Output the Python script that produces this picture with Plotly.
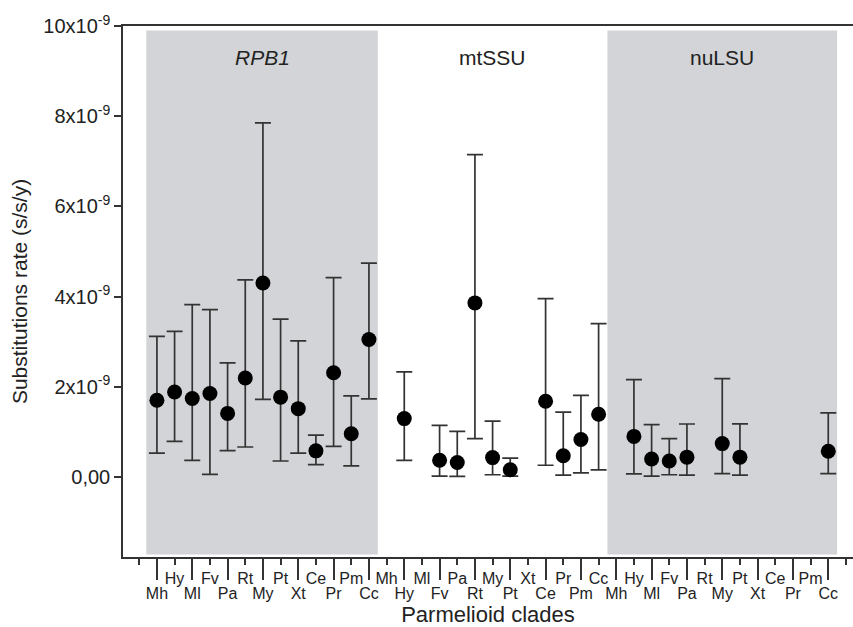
import plotly.graph_objects as go

clades = ["Mh", "Hy", "Ml", "Fv", "Pa", "Rt", "My", "Pt", "Xt", "Ce", "Pr", "Pm", "Cc"]
genes = ["RPB1", "mtSSU", "nuLSU"]

# values in units of 1e-9 substitutions/site/year (None = no estimate)
rpb1_rate  = [1.70, 1.885, 1.74, 1.85, 1.41, 2.195, 4.30, 1.77, 1.515, 0.58, 2.31, 0.96, 3.05]
rpb1_upper = [3.12, 3.23, 3.82, 3.71, 2.53, 4.37, 7.85, 3.50, 3.02, 0.93, 4.42, 1.80, 4.74]
rpb1_lower = [0.53, 0.79, 0.37, 0.06, 0.585, 0.665, 1.72, 0.355, 0.53, 0.275, 0.68, 0.245, 1.73]

mtssu_rate  = [None, 1.295, None, 0.37, 0.32, 3.86, 0.43, 0.16, None, 1.68, 0.47, 0.83, 1.39]
mtssu_upper = [None, 2.33, None, 1.146, 1.01, 7.15, 1.24, 0.42, None, 3.955, 1.44, 1.81, 3.40]
mtssu_lower = [None, 0.37, None, 0.02, 0.015, 0.85, 0.05, 0.02, None, 0.26, 0.04, 0.09, 0.16]

nulsu_rate  = [None, 0.90, 0.40, 0.355, 0.44, None, 0.74, 0.44, None, None, None, None, 0.57]
nulsu_upper = [None, 2.16, 1.16, 0.85, 1.175, None, 2.18, 1.18, None, None, None, None, 1.42]
nulsu_lower = [None, 0.07, 0.02, 0.05, 0.04, None, 0.075, 0.04, None, None, None, None, 0.075]

ytick_vals = [0, 2, 4, 6, 8, 10]
ytick_text = ["0,00", "2x10<sup>-9</sup>", "4x10<sup>-9</sup>", "6x10<sup>-9</sup>",
              "8x10<sup>-9</sup>", "10x10<sup>-9</sup>"]

gene_data = [(rpb1_rate, rpb1_upper, rpb1_lower),
             (mtssu_rate, mtssu_upper, mtssu_lower),
             (nulsu_rate, nulsu_upper, nulsu_lower)]

n = len(clades)
xs, ys, ep, em = [], [], [], []
for gi, (r, u, l) in enumerate(gene_data):
    for ci in range(n):
        if r[ci] is None:
            continue
        xs.append(gi * n + ci)
        ys.append(r[ci])
        ep.append(u[ci] - r[ci])
        em.append(r[ci] - l[ci])

FONT = "Liberation Sans, Arial, sans-serif"
AX = "#333333"
TXT = "#222222"

fig = go.Figure()
fig.add_trace(go.Scatter(
    x=xs, y=ys, mode="markers",
    marker=dict(size=15, color="black"),
    error_y=dict(type="data", symmetric=False, array=ep, arrayminus=em,
                 color=AX, thickness=1.7, width=8),
    showlegend=False, hoverinfo="x+y"))

total = n * len(genes)
low_vals = [p for p in range(total) if p % 2 == 0]
low_text = [clades[p % n] for p in low_vals]
up_vals = [p for p in range(-1, total + 1) if p % 2 != 0]
up_text = [clades[p % n] if 0 <= p < total else "" for p in up_vals]

xr = [-1.92, 39.4]

# invisible helper trace so the second (upper-label) x axis is drawn
fig.add_trace(go.Scatter(x=[xr[0], xr[1]], y=[-50, -50], xaxis="x2", yaxis="y",
                         mode="markers", marker=dict(opacity=0), showlegend=False,
                         hoverinfo="skip"))

# shaded gene blocks
for gi in (0, 2):
    x0 = gi * n - (0.6 if gi == 0 else 0.5)
    x1 = gi * n + n - 0.5
    fig.add_shape(type="rect", xref="x", yref="y", x0=x0, x1=x1, y0=-1.72, y1=9.9,
                  fillcolor="#d2d4d7", line=dict(width=0), layer="below")

for gi, g in enumerate(genes):
    fig.add_annotation(x=gi * n + (n - 1) / 2, y=9.3, xref="x", yref="y",
                       text=("<i>%s</i>" % g) if gi == 0 else g, showarrow=False,
                       font=dict(family=FONT, size=21, color=TXT))

fig.update_layout(
    width=853, height=627,
    margin=dict(l=123, r=0, t=26, b=70),
    paper_bgcolor="white", plot_bgcolor="white",
    font=dict(family=FONT, color=TXT),
    xaxis=dict(range=xr, tickmode="array", tickvals=low_vals, ticktext=low_text,
               ticks="outside", ticklen=21, tickwidth=1.5, tickcolor=AX,
               tickfont=dict(size=16, color=TXT),
               showline=True, linecolor=AX, linewidth=1.5, mirror=True,
               showgrid=False, zeroline=False,
               title=dict(text="Parmelioid clades", font=dict(size=22, color=TXT), standoff=5)),
    xaxis2=dict(range=xr, overlaying="x", anchor="y", side="bottom",
                tickmode="array", tickvals=up_vals, ticktext=up_text,
                ticks="outside", ticklen=7, tickwidth=1.5, tickcolor=AX,
                tickfont=dict(size=16, color=TXT),
                showline=False, showgrid=False, zeroline=False),
    yaxis=dict(range=[-1.774, 10], tickmode="array", tickvals=ytick_vals, ticktext=ytick_text,
               ticks="outside", ticklen=7, tickwidth=1.5, tickcolor=AX,
               tickfont=dict(size=20, color=TXT),
               showline=True, linecolor=AX, linewidth=1.5,
               showgrid=False, zeroline=False,
               title=dict(text="Substitutions rate (s/s/y)", font=dict(size=21, color=TXT), standoff=10)),
)

fig.write_html("out.html", config={"displayModeBar": False},
               post_script="document.body.style.margin='0';")
